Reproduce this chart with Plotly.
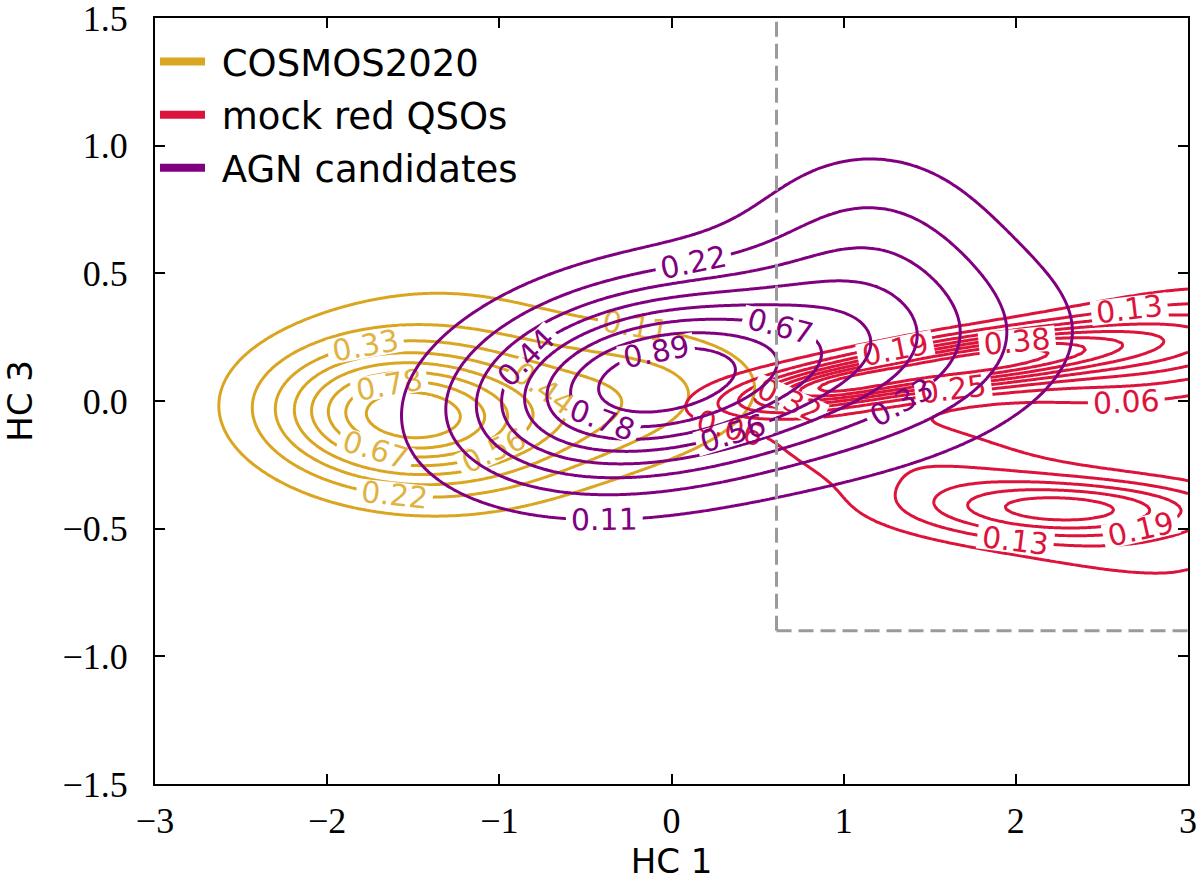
import numpy as np
import plotly.graph_objects as go

# ---------------- data: Gaussian-mixture description of each density map -------------
# COSMOS2020
cosmos_mx = [-1.56, -0.30, -1.30]
cosmos_my = [-0.06, 0.00, 0.07]
cosmos_smaj = [0.50, 0.60, 0.70]
cosmos_smin = [0.17, 0.18, 0.32]
cosmos_ang = [-2.0, 4.0, 0.0]
cosmos_w = [1.00, 0.30, 0.22]
cosmos_peak = 1.0

# AGN candidates
agn_mx = [-0.20, 0.95, 1.15, 0.80]
agn_my = [0.07, 0.15, 0.60, 0.10]
agn_smaj = [0.66, 0.78, 0.50, 1.40]
agn_smin = [0.24, 0.25, 0.29, 0.40]
agn_ang = [6.0, 5.0, 0.0, 5.0]
agn_w = [1.00, 0.40, 0.25, 0.08]
agn_peak = 1.0

# mock red QSOs
red_mx = [0.90, 1.75, 2.90, 2.35, 1.80]
red_my = [0.05, 0.15, 0.22, -0.42, -0.35]
red_smaj = [0.35, 0.60, 0.60, 0.60, 1.10]
red_smin = [0.05, 0.07, 0.13, 0.075, 0.16]
red_ang = [6.0, 5.0, 5.0, 0.0, -12.0]
red_w = [0.30, 0.50, 0.22, 0.24, 0.12]
red_peak = 0.57

n_levels = 9

box_x0 = 0.61
box_y0 = -0.9

x_ticks = [-3, -2, -1, 0, 1, 2, 3]
y_ticks = [-1.5, -1.0, -0.5, 0.0, 0.5, 1.0, 1.5]

names = ["COSMOS2020", "mock red QSOs", "AGN candidates"]
colors = ["#DAA520", "#DC143C", "#800080"]

# ---------------- grid -------------
gx = np.linspace(-3, 3, 361)
gy = np.linspace(-1.5, 1.5, 241)
X, Y = np.meshgrid(gx, gy)


def field(mx, my, smaj, smin, ang, w, peak):
    z = np.zeros_like(X)
    for a, b, s1, s2, t, ww in zip(mx, my, smaj, smin, ang, w):
        th = np.deg2rad(t)
        dx, dy = X - a, Y - b
        u = dx * np.cos(th) + dy * np.sin(th)
        v = -dx * np.sin(th) + dy * np.cos(th)
        z += ww * np.exp(-0.5 * (u ** 2 / s1 ** 2 + v ** 2 / s2 ** 2))
    return z / z.max() * peak


Zc = field(cosmos_mx, cosmos_my, cosmos_smaj, cosmos_smin, cosmos_ang, cosmos_w, cosmos_peak)
Zr = field(red_mx, red_my, red_smaj, red_smin, red_ang, red_w, red_peak)
Za = field(agn_mx, agn_my, agn_smaj, agn_smin, agn_ang, agn_w, agn_peak)

fig = go.Figure()


def add_contour(Z, peak, color, label_color):
    step = peak / n_levels
    fig.add_trace(go.Contour(
        x=gx, y=gy, z=Z,
        autocontour=False,
        contours=dict(start=step, end=peak - step * 0.5, size=step,
                      coloring="lines", showlabels=True,
                      labelfont=dict(size=30, color=label_color, family="DejaVu Sans"),
                      labelformat=".2f"),
        colorscale=[[0, color], [1, color]],
        line=dict(width=3),
        showscale=False, showlegend=False, hoverinfo="skip",
    ))


add_contour(Zc, cosmos_peak, colors[0], "rgba(218,165,32,0.85)")
add_contour(Zr, red_peak, colors[1], colors[1])
add_contour(Za, agn_peak, colors[2], colors[2])

# legend entries
for i, (n, c) in enumerate(zip(names, colors)):
    fig.add_trace(go.Scatter(x=[None], y=[None], mode="lines", name="\u00a0" + n,
                             legendgroup="g%d" % i,
                             line=dict(color=c, width=8)))

# dashed selection box
fig.add_shape(type="line", x0=box_x0, x1=box_x0, y0=box_y0, y1=1.5,
              line=dict(color="#9a9a9a", width=3, dash="15px,7px"))
fig.add_shape(type="line", x0=box_x0, x1=3, y0=box_y0, y1=box_y0,
              line=dict(color="#9a9a9a", width=3, dash="15px,7px"))

axis_common = dict(showline=True, linecolor="black", linewidth=2, mirror="ticks",
                   ticks="inside", ticklen=10, tickwidth=2, tickcolor="black",
                   showgrid=False, zeroline=False, ticklabeloverflow="allow",
                   automargin=False,
                   tickfont=dict(family="Liberation Serif", size=36, color="black"),
                   title_font=dict(family="DejaVu Sans", size=34, color="black"))

fig.update_layout(
    width=1200, height=885,
    margin=dict(l=155, r=12, t=18, b=101),
    paper_bgcolor="white", plot_bgcolor="white",
    xaxis=dict(range=[-3, 3], tickvals=x_ticks,
               ticktext=[("\u2212" + str(-v)) if v < 0 else str(v) for v in x_ticks],
               ticklabelstandoff=4,
               title=dict(text="HC 1", standoff=6), **axis_common),
    yaxis=dict(range=[-1.5, 1.5], tickvals=y_ticks,
               ticktext=[("\u2212%.1f" % -v) if v < 0 else "%.1f" % v for v in y_ticks],
               ticklabelstandoff=18,
               title=dict(text="HC 3", standoff=22), **axis_common),
    legend=dict(x=0.0, y=0.983, xanchor="left", yanchor="top", bgcolor="rgba(0,0,0,0)",
                font=dict(family="DejaVu Sans", size=37, color="black"),
                tracegroupgap=2, itemwidth=45),
    showlegend=True,
)

fig.write_html("out.html")
